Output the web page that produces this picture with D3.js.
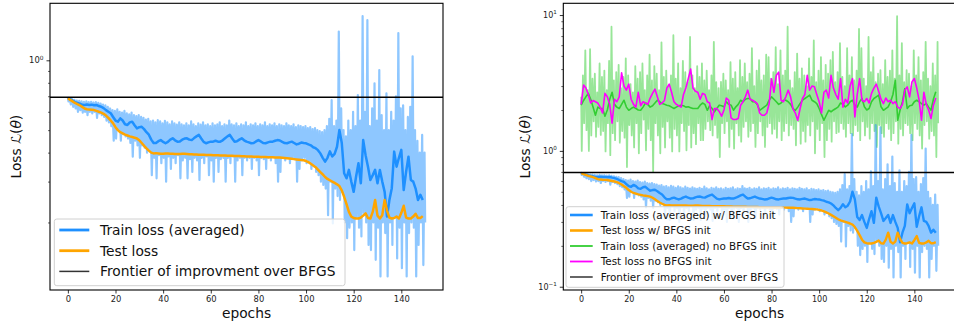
<!DOCTYPE html>
<html>
<head>
<meta charset="utf-8">
<title>Loss curves</title>
<script src="https://cdn.jsdelivr.net/npm/d3@7"></script>
<style>
  html, body { margin: 0; padding: 0; background: #fff; }
  svg { display: block; font-family: "DejaVu Sans", sans-serif; }
</style>
</head>
<body>
<svg id="chart" width="954" height="328"></svg>
<script>
// ---- data ----
const epochTicks = [0, 20, 40, 60, 80, 100, 120, 140];
const frontier = 0.693;   // BFGS loss level

// raw train loss with BFGS init: upper / lower value per epoch (0..150)
const trainRawHi = [0.69,0.685,0.68,0.675,0.67,0.668,0.665,0.662,0.665,0.66,
  0.662,0.658,0.66,0.655,0.65,0.645,0.64,0.63,0.62,0.61,
  0.605,0.615,0.6,0.595,0.605,0.59,0.585,0.595,0.58,0.575,
  0.58,0.57,0.565,0.555,0.56,0.545,0.55,0.54,0.552,0.545,
  0.535,0.548,0.54,0.53,0.545,0.535,0.528,0.54,0.53,0.525,
  0.535,0.525,0.545,0.53,0.52,0.535,0.528,0.54,0.525,0.53,
  0.52,0.535,0.525,0.53,0.54,0.52,0.53,0.525,0.55,0.53,
  0.525,0.535,0.52,0.53,0.525,0.54,0.52,0.53,0.525,0.535,
  0.52,0.53,0.525,0.54,0.52,0.53,0.525,0.535,0.52,0.53,
  0.525,0.52,0.535,0.525,0.52,0.53,0.515,0.525,0.52,0.515,
  0.52,0.51,0.515,0.505,0.51,0.5,0.495,0.49,0.5,0.52,
  0.56,0.674,0.52,0.55,1.33,0.62,0.5,0.47,0.55,0.5,
  0.6,0.52,0.708,0.55,1.55,0.6,1.49,0.52,0.62,0.796,
  0.55,0.908,0.58,0.5,0.72,0.5,0.6,0.55,0.7,1.31,
  0.62,0.64,0.5,0.57,0.63,1.04,0.5,0.45,0.4,0.477,0.4];
const trainRawLo = [0.665,0.645,0.63,0.62,0.6,0.61,0.595,0.6,0.58,0.6,
  0.59,0.6,0.565,0.59,0.58,0.57,0.55,0.54,0.52,0.45,
  0.46,0.5,0.45,0.48,0.47,0.46,0.44,0.384,0.45,0.43,
  0.38,0.43,0.42,0.4,0.41,0.32,0.38,0.31,0.39,0.36,
  0.38,0.3,0.385,0.34,0.38,0.36,0.39,0.31,0.37,0.38,
  0.31,0.375,0.33,0.38,0.37,0.305,0.38,0.36,0.385,0.32,
  0.37,0.3,0.38,0.33,0.375,0.38,0.3,0.38,0.36,0.385,
  0.3,0.37,0.38,0.32,0.38,0.37,0.38,0.34,0.38,0.37,
  0.32,0.38,0.375,0.34,0.38,0.37,0.385,0.36,0.3,0.33,
  0.38,0.37,0.38,0.36,0.38,0.375,0.3,0.34,0.37,0.38,
  0.36,0.37,0.34,0.35,0.33,0.32,0.3,0.29,0.28,0.215,
  0.3,0.198,0.28,0.26,0.25,0.27,0.2,0.171,0.19,0.2,
  0.152,0.21,0.19,0.174,0.22,0.2,0.16,0.152,0.2,0.138,
  0.19,0.117,0.2,0.18,0.117,0.2,0.16,0.21,0.14,0.19,
  0.127,0.2,0.117,0.18,0.2,0.19,0.117,0.16,0.2,0.131,0.2];

// averaged train loss with BFGS init (epochs 0..149)
const trainAvg = [0.69,0.68,0.67,0.66,0.655,0.65,0.643,0.642,0.645,0.642,
  0.644,0.64,0.642,0.635,0.631,0.622,0.61,0.6,0.591,0.57,
  0.55,0.544,0.562,0.55,0.53,0.526,0.54,0.544,0.525,0.509,
  0.515,0.517,0.505,0.49,0.478,0.455,0.44,0.44,0.448,0.453,
  0.445,0.439,0.445,0.455,0.461,0.452,0.446,0.447,0.455,0.46,
  0.461,0.455,0.453,0.462,0.47,0.477,0.46,0.445,0.439,0.443,
  0.446,0.446,0.45,0.446,0.446,0.452,0.461,0.47,0.477,0.46,
  0.446,0.448,0.455,0.461,0.452,0.446,0.443,0.439,0.44,0.447,
  0.453,0.447,0.44,0.439,0.443,0.446,0.446,0.45,0.453,0.451,
  0.445,0.44,0.439,0.443,0.446,0.44,0.434,0.437,0.442,0.44,
  0.439,0.434,0.43,0.422,0.418,0.41,0.397,0.38,0.366,0.38,
  0.405,0.385,0.395,0.424,0.501,0.44,0.326,0.31,0.337,0.3,
  0.271,0.315,0.36,0.295,0.453,0.39,0.348,0.305,0.32,0.337,
  0.295,0.337,0.3,0.271,0.212,0.25,0.281,0.404,0.348,0.38,
  0.411,0.276,0.33,0.384,0.305,0.3,0.28,0.25,0.263,0.25];

// test loss with BFGS init
const testLoss = [0.686,0.675,0.665,0.655,0.648,0.64,0.63,0.62,0.615,0.613,
  0.612,0.61,0.605,0.6,0.595,0.588,0.578,0.565,0.55,0.535,
  0.515,0.5,0.49,0.484,0.478,0.474,0.47,0.467,0.464,0.46,
  0.452,0.44,0.428,0.417,0.408,0.4,0.397,0.398,0.397,0.396,
  0.396,0.397,0.397,0.396,0.396,0.395,0.395,0.395,0.396,0.396,
  0.395,0.394,0.394,0.393,0.393,0.392,0.392,0.392,0.391,0.391,
  0.391,0.39,0.39,0.39,0.389,0.389,0.389,0.388,0.388,0.388,
  0.387,0.387,0.387,0.386,0.386,0.385,0.385,0.385,0.384,0.384,
  0.384,0.383,0.383,0.383,0.382,0.382,0.382,0.381,0.381,0.381,
  0.38,0.379,0.378,0.377,0.376,0.375,0.374,0.373,0.372,0.371,
  0.368,0.364,0.358,0.352,0.346,0.338,0.33,0.322,0.314,0.308,
  0.304,0.3,0.296,0.292,0.287,0.275,0.258,0.24,0.222,0.212,
  0.209,0.208,0.208,0.21,0.214,0.219,0.209,0.208,0.222,0.25,
  0.214,0.208,0.215,0.25,0.225,0.21,0.208,0.209,0.212,0.208,
  0.22,0.236,0.21,0.208,0.208,0.212,0.218,0.209,0.209,0.213];

// raw train loss without BFGS init: upper / lower value per epoch (0..150)
const noInitRawHi = [2.5,3.6,5.5,2.8,5.6,3.4,3.7,2.7,4.4,3.5,
  3.9,2.8,4.6,8.2,3.3,3.8,4.3,2.9,3.5,4.8,
  3.6,3.1,2.7,4.2,3.4,3.8,4.4,2.8,3.6,5.1,
  3.3,4.2,3.7,2.8,6.3,3.5,3.9,3.0,3.6,7.1,
  3.4,4.4,2.9,4.6,3.8,3.2,6.9,3.6,2.9,4.2,
  3.5,4.4,3.3,3.9,2.8,3.6,6.35,3.2,2.9,3.22,
  3.7,3.3,2.8,4.5,3.4,3.8,2.9,4.65,3.5,4.4,
  3.2,3.7,5.7,3.0,3.9,4.65,3.3,3.6,5.1,4.9,
  3.4,3.8,5.8,3.1,5.5,3.6,3.9,8.2,3.3,2.9,
  3.8,5.2,3.4,4.04,3.6,3.0,4.8,3.5,6.5,3.2,
  3.9,4.9,3.3,4.3,3.7,4.65,5.35,3.2,3.8,6.2,
  3.5,3.0,5.7,3.6,4.9,3.3,3.9,7.9,5.7,3.4,
  3.0,6.9,3.8,4.9,3.2,3.7,3.93,3.1,4.65,3.5,
  3.9,5.5,3.4,9.8,3.6,6.2,3.2,3.93,3.7,3.0,
  5.5,3.6,4.9,3.3,3.8,6.35,3.4,3.0,4.4,3.6,6.35];
const noInitRawLo = [1.0,1.6,1.42,1.0,1.3,1.65,1.27,1.5,1.31,1.4,
  0.99,1.6,0.93,1.35,1.2,1.65,1.15,1.4,1.25,0.76,
  1.55,1.3,1.06,1.6,0.96,1.35,1.7,1.01,1.45,1.2,
  0.7,1.6,1.3,0.96,1.5,1.06,1.65,1.25,0.99,1.45,
  1.3,0.99,1.6,1.4,1.01,1.55,1.06,1.35,1.12,1.6,
  1.2,1.2,1.45,1.65,1.42,1.3,1.55,1.25,0.9,1.6,
  1.35,1.65,1.07,1.45,1.04,1.6,1.3,1.17,1.5,1.65,
  1.27,1.4,1.6,1.07,1.35,1.65,1.3,1.07,1.5,1.6,
  1.34,1.45,1.25,1.65,1.2,1.4,1.6,1.3,1.55,1.45,
  1.1,1.65,1.13,1.4,1.17,1.55,1.3,1.65,0.96,1.45,
  1.2,1.6,0.9,1.2,1.45,1.17,1.65,1.35,1.38,1.6,
  1.45,1.27,1.6,1.35,1.3,1.55,1.4,1.2,1.65,1.3,
  1.5,1.23,1.6,1.4,1.07,1.55,1.35,1.27,1.6,1.45,
  1.2,1.35,1.65,1.13,1.45,1.3,1.6,1.55,1.35,1.2,
  1.6,1.45,1.3,1.04,1.55,1.65,1.23,1.4,1.3,0.9,1.6];

// averaged train loss without BFGS init
const noInitAvg = [2.17,2.35,2.5,2.65,2.4,2.1,1.83,2.1,2.05,2.05,
  1.8,2.0,2.4,2.7,2.2,2.1,2.05,2.2,2.36,2.1,
  1.99,2.05,2.1,2.05,2.0,1.99,2.1,2.25,2.2,2.1,
  2.15,2.25,2.36,2.3,2.23,2.2,2.17,2.15,2.1,2.05,
  2.1,2.15,2.17,2.15,2.1,2.11,2.08,2.05,2.05,2.05,
  2.17,2.25,2.2,1.99,2.15,2.05,1.94,2.05,2.17,2.15,
  2.11,2.3,2.2,2.17,1.99,2.11,2.2,2.36,2.3,2.4,
  2.43,2.43,2.3,2.3,2.2,1.99,2.05,2.11,2.17,2.36,
  2.5,2.4,2.3,2.2,2.25,2.36,2.36,2.3,2.2,2.05,
  1.99,2.1,2.23,2.36,2.43,2.5,2.57,2.36,2.3,2.23,
  2.05,1.85,1.68,1.83,1.99,1.94,2.0,2.05,2.11,2.25,
  2.2,2.11,2.17,2.3,2.36,2.17,2.1,2.3,2.43,2.11,
  2.0,2.05,2.3,2.43,2.5,2.57,2.11,1.99,2.05,2.11,
  2.3,2.6,3.31,1.68,2.0,2.3,2.88,2.05,2.15,2.17,
  2.3,2.36,2.3,2.23,2.17,2.23,2.1,1.99,2.4,2.72];

// test loss without BFGS init
const noInitTest = [2.2,3.05,2.9,2.6,2.25,2.35,2.3,2.25,2.1,1.9,
  2.65,2.5,2.2,1.6,2.4,2.3,2.5,3.75,3.0,2.8,
  3.1,2.4,2.2,2.1,2.7,2.15,2.3,2.25,2.2,2.45,
  2.65,2.85,2.5,2.2,2.25,2.35,2.9,3.1,2.7,2.3,
  2.2,2.15,2.1,2.6,2.9,3.4,4.0,2.9,2.75,2.7,
  2.4,2.65,2.6,2.3,2.25,1.7,2.05,2.05,1.95,1.8,
  2.0,2.45,2.36,1.75,1.7,1.7,1.73,2.17,2.3,2.5,
  2.8,2.4,2.36,2.3,2.23,1.9,1.83,1.83,1.9,2.23,
  3.4,2.7,3.6,3.8,2.36,2.3,2.5,2.8,2.5,2.05,
  1.9,1.68,2.05,2.43,2.6,3.6,2.8,3.0,2.96,2.6,
  2.3,1.9,2.7,2.8,2.45,3.6,2.9,2.6,2.4,3.4,
  2.1,2.4,2.25,3.0,3.4,1.78,2.6,3.4,2.36,2.3,
  2.43,2.25,2.65,2.9,3.1,2.75,2.4,2.23,2.45,2.3,
  2.36,2.23,2.3,2.1,2.05,2.2,2.8,2.96,2.5,3.22,
  3.41,2.9,2.36,1.68,2.7,2.2,2.0,1.73,2.17,2.45];

const leftMajor = [1];
const leftMinor = [0.2, 0.3, 0.4, 0.5, 0.6, 0.7, 0.8, 0.9];
const rightMajor = [0.1, 1, 10];
const rightMinor = [0.2, 0.3, 0.4, 0.5, 0.6, 0.7, 0.8, 0.9, 2, 3, 4, 5, 6, 7, 8, 9];

const BLUE = '#1e90ff', ORANGE = '#ffa500', GREEN = '#32cd32', MAGENTA = '#ff00ff';

const svg = d3.select('#chart');

// raw curves: alternate upper and lower value within each epoch
function rawPoints(hi, lo) {
  const pts = [];
  hi.forEach((h, i) => {
    pts.push([Math.max(0, i - 0.25), h]);
    pts.push([Math.min(150, i + 0.25), lo[i]]);
  });
  return pts;
}

function drawPanel(p) {
  const x = d3.scaleLinear().domain([-7.5, 157.5]).range([p.left, p.right]);
  const y = d3.scaleLog().domain(p.yDomain).range([p.bottom, p.top]);

  svg.append('clipPath').attr('id', p.id)
    .append('rect')
    .attr('x', p.left).attr('y', p.top)
    .attr('width', p.right - p.left).attr('height', p.bottom - p.top);

  const plot = svg.append('g').attr('clip-path', `url(#${p.id})`);
  const line = d3.line().x(d => x(d[0])).y(d => y(d[1]));

  p.series.forEach(s => {
    const pts = s.raw ? rawPoints(s.hi, s.lo) : s.values.map((v, i) => [i, v]);
    plot.append('path')
      .attr('d', line(pts))
      .attr('fill', 'none')
      .attr('stroke', s.color)
      .attr('stroke-width', s.width)
      .attr('stroke-opacity', s.raw ? 0.5 : 1)
      .attr('stroke-linejoin', 'round');
  });

  // frontier of improvement over BFGS
  plot.append('line')
    .attr('x1', p.left).attr('x2', p.right)
    .attr('y1', y(frontier)).attr('y2', y(frontier))
    .attr('stroke', '#000').attr('stroke-width', 1.4);

  // x axis
  const xa = svg.append('g')
    .attr('transform', `translate(0,${p.bottom})`)
    .call(d3.axisBottom(x).tickValues(epochTicks).tickSize(3.5).tickPadding(2.5));
  xa.select('.domain').remove();
  xa.selectAll('line').attr('stroke', '#000').attr('stroke-width', 0.8);
  xa.selectAll('text').attr('font-size', p.tickFont).attr('fill', '#222')
    .attr('font-family', '"DejaVu Sans", sans-serif');

  // y axis: major and minor ticks
  const ya = svg.append('g')
    .attr('transform', `translate(${p.left},0)`)
    .call(d3.axisLeft(y).tickValues(p.major).tickSize(3.5).tickFormat(''));
  ya.select('.domain').remove();
  ya.selectAll('line').attr('stroke', '#000').attr('stroke-width', 0.8);
  const ym = svg.append('g')
    .attr('transform', `translate(${p.left},0)`)
    .call(d3.axisLeft(y).tickValues(p.minor).tickSize(2).tickFormat(''));
  ym.select('.domain').remove();
  ym.selectAll('line').attr('stroke', '#000').attr('stroke-width', 0.6);

  p.major.forEach(v => {
    const e = Math.round(Math.log10(v));
    const t = svg.append('text')
      .attr('x', p.left - 6.5).attr('y', y(v) + 3)
      .attr('text-anchor', 'end')
      .attr('font-size', p.tickFont).attr('fill', '#222');
    t.append('tspan').text('10');
    t.append('tspan').attr('dy', -3.6).attr('font-size', p.tickFont * 0.7)
      .text(e < 0 ? '\u2212' + (-e) : String(e));
  });

  // frame
  svg.append('rect')
    .attr('x', p.left).attr('y', p.top)
    .attr('width', p.right - p.left).attr('height', p.bottom - p.top)
    .attr('fill', 'none').attr('stroke', '#000').attr('stroke-width', 1.1);

  // axis labels
  svg.append('text')
    .attr('x', (p.left + p.right) / 2).attr('y', 318)
    .attr('text-anchor', 'middle').attr('font-size', 13.8).attr('fill', '#111')
    .text('epochs');
  const yl = svg.append('text')
    .attr('transform', `translate(${p.ylabelX},${(p.top + p.bottom) / 2}) rotate(-90)`)
    .attr('text-anchor', 'middle').attr('dy', '0.35em')
    .attr('font-size', 13.8).attr('fill', '#111');
  yl.append('tspan').text('Loss \u2112(');
  yl.append('tspan').attr('font-style', 'italic').text('\u03b8');
  yl.append('tspan').text(')');

  // legend
  const L = p.legend;
  const lg = svg.append('g');
  lg.append('rect')
    .attr('x', L.x).attr('y', L.y).attr('width', L.w).attr('height', L.h)
    .attr('rx', 2.5)
    .attr('fill', '#fff').attr('fill-opacity', 0.8)
    .attr('stroke', '#d0d0d0').attr('stroke-width', 1);
  L.items.forEach((it, i) => {
    const cy = L.y + L.first + i * L.step;
    lg.append('line')
      .attr('x1', L.sx0).attr('x2', L.sx1).attr('y1', cy).attr('y2', cy)
      .attr('stroke', it.color).attr('stroke-width', it.width);
    lg.append('text')
      .attr('x', L.tx).attr('y', cy).attr('dy', '0.36em')
      .attr('font-size', L.font).attr('fill', '#111')
      .text(it.label);
  });
}

drawPanel({
  id: 'clipL', left: 50, right: 443, top: 3.3, bottom: 290,
  yDomain: [0.1023, 1.761], major: leftMajor, minor: leftMinor,
  tickFont: 8.4, ylabelX: 16,
  series: [
    { raw: true, hi: trainRawHi, lo: trainRawLo, color: BLUE, width: 2.2 },
    { values: trainAvg, color: BLUE, width: 2.5 },
    { values: testLoss, color: ORANGE, width: 2.5 }
  ],
  legend: {
    x: 54.3, y: 219, w: 290.7, h: 66.7, first: 11, step: 20.7,
    sx0: 59.3, sx1: 89.3, tx: 100, font: 13.8,
    items: [
      { label: 'Train loss (averaged)', color: BLUE, width: 2.8 },
      { label: 'Test loss', color: ORANGE, width: 2.8 },
      { label: 'Frontier of improvment over BFGS', color: '#333', width: 1.5 }
    ]
  }
});

drawPanel({
  id: 'clipR', left: 563.3, right: 956, top: 3.3, bottom: 290,
  yDomain: [0.0946, 12.2], major: rightMajor, minor: rightMinor,
  tickFont: 8.0, ylabelX: 525,
  series: [
    { raw: true, hi: noInitRawHi, lo: noInitRawLo, color: GREEN, width: 1.8 },
    { raw: true, hi: trainRawHi, lo: trainRawLo, color: BLUE, width: 2.2 },
    { values: trainAvg, color: BLUE, width: 2.4 },
    { values: testLoss, color: ORANGE, width: 2.4 },
    { values: noInitAvg, color: GREEN, width: 1.6 },
    { values: noInitTest, color: MAGENTA, width: 1.6 }
  ],
  legend: {
    x: 566, y: 206.7, w: 218, h: 80.6, first: 8.3, step: 15.5,
    sx0: 570, sx1: 592.7, tx: 600.7, font: 10.4,
    items: [
      { label: 'Train loss (averaged) w/ BFGS init', color: BLUE, width: 2.6 },
      { label: 'Test loss w/ BFGS init', color: ORANGE, width: 2.6 },
      { label: 'Train loss (averaged) no BFGS init', color: GREEN, width: 1.8 },
      { label: 'Test loss no BFGS init', color: MAGENTA, width: 1.8 },
      { label: 'Frontier of improvment over BFGS', color: '#333', width: 1.5 }
    ]
  }
});
</script>
</body>
</html>
